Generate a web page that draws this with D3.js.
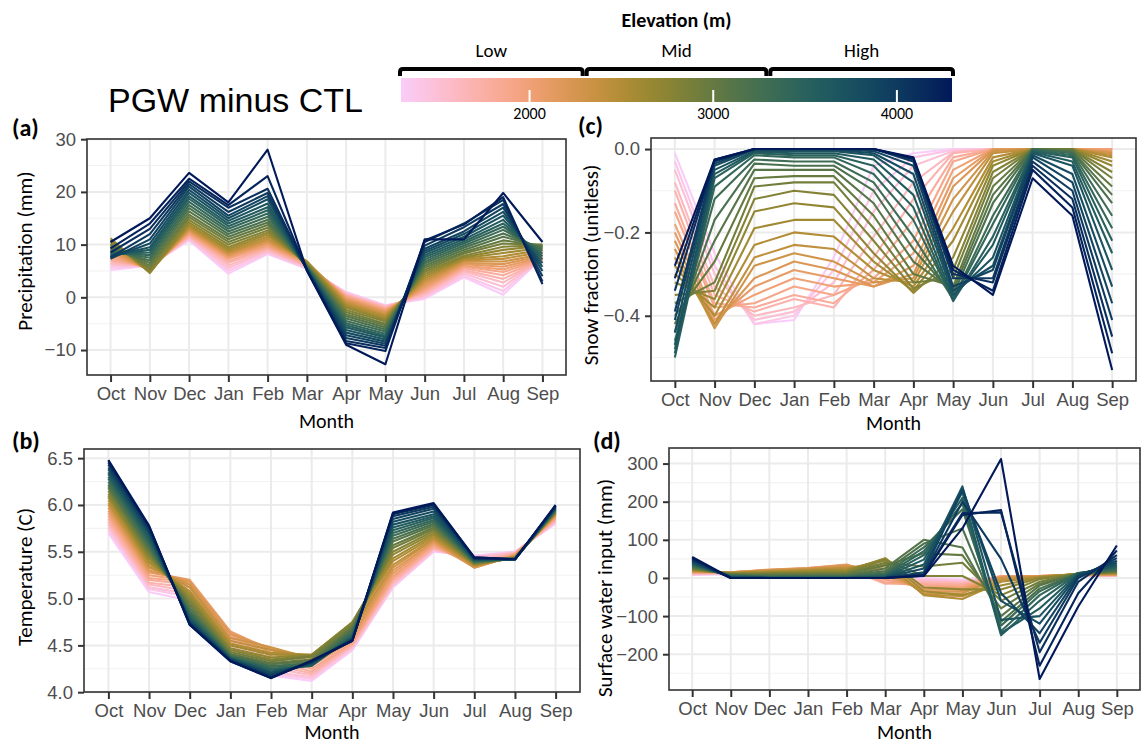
<!DOCTYPE html>
<html>
<head>
<meta charset="utf-8">
<script src="https://cdn.jsdelivr.net/npm/d3@7"></script>
<style>
body { margin: 0; background: #fff; }
svg { display: block; }
</style>
</head>
<body>
<svg width="1142" height="745"></svg>
<script>

// ---- data ----
// each panel: one array per month (Oct..Sep), values listed from the lowest
// elevation band (1300 m) to the highest (4300 m) in 100 m steps
var months = ["Oct", "Nov", "Dec", "Jan", "Feb", "Mar", "Apr", "May", "Jun", "Jul", "Aug", "Sep"];
var elevations = d3.range(1300, 4301, 100);

var precip = [
	[5.2, 5.6, 6.0, 6.4, 6.8, 7.1, 7.5, 8.0, 8.5, 9.0, 9.5, 10.0, 10.5, 10.9, 11.2, 10.8, 10.2, 9.8, 9.5, 9.1, 8.8, 8.5, 8.2, 8.0, 7.8, 7.5, 7.3, 7.6, 8.5, 9.3, 10.5],
	[6.0, 6.0, 6.0, 5.9, 5.8, 5.7, 5.5, 5.4, 5.2, 5.1, 5.0, 4.9, 4.8, 4.7, 4.6, 5.0, 5.5, 6.0, 6.5, 7.0, 7.5, 8.0, 8.5, 9.0, 9.5, 10.2, 11.0, 12.0, 13.0, 14.0, 15.0],
	[10.8, 11.0, 11.2, 11.4, 11.6, 11.8, 12.0, 12.2, 12.5, 12.7, 13.0, 13.2, 13.5, 13.8, 14.2, 14.7, 15.2, 15.7, 16.3, 16.9, 17.5, 18.1, 18.7, 19.2, 19.8, 20.4, 21.0, 21.5, 22.0, 22.5, 23.6],
	[4.5, 5.0, 5.5, 6.0, 6.5, 6.9, 7.3, 7.5, 7.8, 8.0, 8.3, 8.5, 8.8, 9.1, 9.5, 10.0, 10.5, 11.0, 11.5, 12.0, 12.5, 13.0, 13.5, 14.0, 14.5, 15.0, 15.5, 16.2, 17.0, 17.5, 18.0],
	[8.2, 8.4, 8.7, 8.9, 9.2, 9.4, 9.7, 9.9, 10.2, 10.5, 10.8, 11.1, 11.5, 11.9, 12.3, 12.7, 13.2, 13.7, 14.2, 14.7, 15.3, 15.9, 16.5, 17.1, 17.8, 18.6, 19.2, 19.8, 20.6, 23.0, 28.0],
	[5.4, 5.5, 5.7, 5.9, 6.0, 6.2, 6.3, 6.5, 6.6, 6.7, 6.8, 6.8, 6.8, 6.7, 6.5, 6.4, 6.2, 6.1, 6.0, 5.9, 5.8, 5.7, 5.6, 5.5, 5.4, 5.4, 5.3, 5.2, 5.2, 5.1, 5.1],
	[1.0, 0.9, 0.7, 0.6, 0.4, 0.3, 0.1, -0.1, -0.3, -0.5, -0.8, -1.1, -1.4, -1.7, -2.0, -2.4, -2.8, -3.2, -3.6, -4.0, -4.5, -4.9, -5.3, -5.7, -6.2, -6.7, -7.2, -7.7, -8.3, -8.7, -9.0],
	[-1.5, -1.6, -1.7, -1.8, -2.0, -2.1, -2.3, -2.5, -2.7, -2.9, -3.2, -3.4, -3.7, -4.0, -4.3, -4.6, -5.0, -5.3, -5.7, -6.1, -6.5, -6.9, -7.3, -7.6, -8.0, -8.4, -8.8, -9.2, -9.6, -10.2, -12.7],
	[-0.3, 0.0, 0.2, 0.5, 0.8, 1.1, 1.4, 1.7, 2.0, 2.4, 2.8, 3.2, 3.6, 4.0, 4.4, 4.8, 5.2, 5.6, 6.0, 6.4, 6.8, 7.2, 7.6, 8.0, 8.4, 8.8, 9.2, 9.8, 10.5, 10.8, 11.0],
	[3.8, 4.1, 4.5, 4.9, 5.2, 5.5, 5.8, 6.0, 6.3, 6.5, 6.8, 7.0, 7.2, 7.4, 7.6, 7.9, 8.3, 8.6, 9.0, 9.4, 9.8, 10.2, 10.6, 11.0, 11.5, 12.0, 12.5, 13.3, 14.0, 13.8, 11.0],
	[0.5, 1.2, 2.0, 2.8, 3.5, 4.2, 4.8, 5.3, 5.8, 6.3, 6.8, 7.3, 7.8, 8.4, 9.0, 9.6, 10.2, 10.8, 11.5, 12.1, 12.8, 13.4, 14.0, 14.7, 15.5, 16.2, 17.0, 17.7, 18.5, 19.0, 19.8],
	[7.5, 7.4, 7.3, 7.1, 7.0, 7.1, 7.2, 7.4, 7.6, 7.9, 8.2, 8.6, 9.0, 9.4, 9.8, 9.9, 10.0, 9.8, 9.5, 9.2, 8.8, 8.3, 7.8, 7.2, 6.5, 5.8, 5.0, 4.0, 3.0, 2.5, 10.5]
];

var temp = [
	[5.70, 5.73, 5.76, 5.79, 5.82, 5.85, 5.88, 5.91, 5.94, 5.97, 6.00, 6.02, 6.05, 6.08, 6.10, 6.12, 6.15, 6.18, 6.20, 6.22, 6.25, 6.28, 6.30, 6.33, 6.35, 6.38, 6.40, 6.43, 6.45, 6.47, 6.48],
	[5.07, 5.10, 5.12, 5.15, 5.17, 5.20, 5.22, 5.25, 5.28, 5.30, 5.33, 5.35, 5.38, 5.40, 5.43, 5.45, 5.48, 5.50, 5.53, 5.55, 5.58, 5.60, 5.63, 5.65, 5.68, 5.70, 5.72, 5.74, 5.76, 5.77, 5.78],
	[4.98, 5.02, 5.05, 5.08, 5.12, 5.15, 5.18, 5.19, 5.20, 5.18, 5.15, 5.12, 5.08, 5.05, 5.02, 4.99, 4.96, 4.93, 4.90, 4.87, 4.85, 4.83, 4.81, 4.79, 4.78, 4.76, 4.75, 4.74, 4.73, 4.72, 4.72],
	[4.48, 4.50, 4.52, 4.55, 4.58, 4.61, 4.63, 4.64, 4.65, 4.62, 4.58, 4.55, 4.52, 4.50, 4.47, 4.45, 4.43, 4.41, 4.40, 4.39, 4.38, 4.37, 4.37, 4.36, 4.36, 4.35, 4.35, 4.34, 4.34, 4.33, 4.33],
	[4.18, 4.20, 4.22, 4.26, 4.30, 4.34, 4.38, 4.42, 4.45, 4.47, 4.48, 4.45, 4.42, 4.40, 4.37, 4.35, 4.33, 4.31, 4.30, 4.28, 4.27, 4.25, 4.24, 4.22, 4.21, 4.20, 4.18, 4.17, 4.16, 4.15, 4.15],
	[4.12, 4.14, 4.16, 4.18, 4.20, 4.22, 4.25, 4.28, 4.30, 4.33, 4.36, 4.38, 4.40, 4.40, 4.40, 4.39, 4.38, 4.35, 4.33, 4.31, 4.30, 4.29, 4.28, 4.29, 4.30, 4.31, 4.32, 4.32, 4.33, 4.33, 4.34],
	[4.45, 4.46, 4.48, 4.49, 4.50, 4.52, 4.53, 4.55, 4.58, 4.61, 4.65, 4.68, 4.72, 4.74, 4.75, 4.74, 4.72, 4.70, 4.68, 4.66, 4.64, 4.62, 4.60, 4.59, 4.58, 4.57, 4.56, 4.56, 4.55, 4.55, 4.55],
	[5.12, 5.13, 5.15, 5.16, 5.18, 5.20, 5.22, 5.24, 5.27, 5.30, 5.33, 5.36, 5.40, 5.43, 5.47, 5.50, 5.54, 5.57, 5.61, 5.64, 5.67, 5.70, 5.73, 5.76, 5.79, 5.82, 5.85, 5.88, 5.90, 5.91, 5.92],
	[5.50, 5.51, 5.52, 5.53, 5.54, 5.55, 5.57, 5.58, 5.60, 5.61, 5.63, 5.64, 5.66, 5.68, 5.70, 5.72, 5.74, 5.76, 5.78, 5.80, 5.82, 5.84, 5.86, 5.88, 5.90, 5.93, 5.96, 5.98, 6.00, 6.01, 6.02],
	[5.46, 5.45, 5.44, 5.42, 5.40, 5.37, 5.35, 5.34, 5.33, 5.33, 5.34, 5.35, 5.36, 5.36, 5.37, 5.37, 5.38, 5.38, 5.39, 5.39, 5.40, 5.40, 5.41, 5.41, 5.42, 5.42, 5.43, 5.43, 5.43, 5.44, 5.44],
	[5.50, 5.50, 5.49, 5.49, 5.48, 5.48, 5.47, 5.47, 5.46, 5.46, 5.45, 5.45, 5.44, 5.44, 5.43, 5.43, 5.43, 5.43, 5.43, 5.43, 5.43, 5.42, 5.42, 5.42, 5.42, 5.42, 5.42, 5.42, 5.42, 5.42, 5.42],
	[5.80, 5.81, 5.82, 5.83, 5.84, 5.85, 5.86, 5.87, 5.88, 5.89, 5.90, 5.90, 5.91, 5.91, 5.92, 5.92, 5.93, 5.93, 5.94, 5.94, 5.95, 5.95, 5.96, 5.96, 5.97, 5.97, 5.98, 5.98, 5.99, 5.99, 6.00]
];

var snow = [
	[-0.01, -0.03, -0.05, -0.08, -0.10, -0.13, -0.15, -0.18, -0.20, -0.22, -0.24, -0.26, -0.28, -0.30, -0.32, -0.35, -0.37, -0.40, -0.42, -0.44, -0.46, -0.48, -0.50, -0.49, -0.47, -0.44, -0.41, -0.39, -0.34, -0.31, -0.28],
	[-0.25, -0.28, -0.30, -0.33, -0.35, -0.37, -0.38, -0.40, -0.41, -0.42, -0.43, -0.42, -0.40, -0.38, -0.36, -0.34, -0.32, -0.27, -0.22, -0.17, -0.12, -0.09, -0.07, -0.06, -0.05, -0.04, -0.035, -0.03, -0.028, -0.026, -0.025],
	[-0.42, -0.42, -0.41, -0.40, -0.39, -0.38, -0.37, -0.35, -0.33, -0.31, -0.28, -0.26, -0.23, -0.19, -0.15, -0.12, -0.09, -0.07, -0.05, -0.035, -0.025, -0.015, -0.01, -0.007, -0.005, -0.002, 0, 0, 0, 0, 0],
	[-0.41, -0.40, -0.39, -0.38, -0.36, -0.35, -0.33, -0.31, -0.29, -0.27, -0.25, -0.23, -0.20, -0.17, -0.13, -0.10, -0.08, -0.065, -0.05, -0.04, -0.03, -0.02, -0.015, -0.01, -0.005, -0.002, 0, 0, 0, 0, 0],
	[-0.26, -0.29, -0.32, -0.35, -0.38, -0.37, -0.35, -0.33, -0.31, -0.29, -0.27, -0.24, -0.21, -0.17, -0.14, -0.11, -0.08, -0.065, -0.05, -0.04, -0.03, -0.02, -0.015, -0.01, -0.005, -0.002, 0, 0, 0, 0, 0],
	[-0.04, -0.10, -0.15, -0.21, -0.26, -0.29, -0.31, -0.32, -0.33, -0.33, -0.32, -0.31, -0.29, -0.27, -0.25, -0.22, -0.19, -0.16, -0.13, -0.10, -0.08, -0.06, -0.04, -0.025, -0.015, -0.01, -0.005, 0, 0, 0, 0],
	[-0.01, -0.02, -0.04, -0.08, -0.12, -0.17, -0.22, -0.25, -0.28, -0.30, -0.31, -0.32, -0.33, -0.34, -0.345, -0.335, -0.32, -0.30, -0.27, -0.24, -0.21, -0.17, -0.14, -0.11, -0.08, -0.06, -0.04, -0.03, -0.025, -0.022, -0.02],
	[0, -0.002, -0.005, -0.008, -0.01, -0.02, -0.03, -0.05, -0.07, -0.09, -0.12, -0.15, -0.19, -0.22, -0.26, -0.29, -0.31, -0.33, -0.34, -0.35, -0.36, -0.362, -0.365, -0.36, -0.35, -0.34, -0.33, -0.31, -0.30, -0.29, -0.28],
	[0, 0, 0, 0, 0, 0, 0, 0, 0, -0.002, -0.005, -0.01, -0.02, -0.03, -0.04, -0.055, -0.07, -0.09, -0.11, -0.13, -0.16, -0.18, -0.21, -0.23, -0.26, -0.28, -0.29, -0.31, -0.32, -0.34, -0.35],
	[0, 0, 0, 0, 0, 0, 0, 0, 0, 0, 0, 0, 0, 0, 0, 0, 0, 0, 0, 0, 0, -0.002, -0.005, -0.007, -0.01, -0.015, -0.02, -0.03, -0.04, -0.05, -0.07],
	[0, 0, 0, 0, 0, 0, 0, 0, 0, 0, 0, 0, 0, 0, 0, 0, 0, -0.002, -0.005, -0.007, -0.01, -0.015, -0.02, -0.03, -0.04, -0.06, -0.08, -0.10, -0.12, -0.14, -0.16],
	[0, 0, 0, 0, 0, 0, 0, 0, -0.005, -0.008, -0.01, -0.015, -0.02, -0.03, -0.04, -0.055, -0.07, -0.09, -0.11, -0.13, -0.16, -0.19, -0.22, -0.25, -0.29, -0.33, -0.37, -0.41, -0.45, -0.49, -0.53]
];

var swi = [
	[8, 9, 10, 11, 12, 13, 14, 15, 16, 17, 18, 19, 20, 21, 22, 23, 25, 26, 28, 30, 32, 34, 36, 38, 40, 42, 45, 47, 50, 52, 55],
	[10, 11, 12, 13, 14, 15, 15, 15, 15, 15, 14, 14, 13, 12, 12, 11, 10, 9, 8, 7, 6, 5, 4, 3, 2, 1, 1, 0, 0, 0, 0],
	[8, 10, 12, 14, 16, 18, 20, 21, 22, 21, 20, 18, 17, 15, 14, 12, 10, 8, 6, 4, 3, 2, 1, 0, 0, 0, 0, 0, 0, 0, 0],
	[10, 12, 15, 18, 20, 23, 25, 26, 26, 25, 24, 22, 20, 18, 16, 13, 11, 9, 7, 5, 3, 2, 1, 0, 0, 0, 0, 0, 0, 0, 0],
	[12, 15, 18, 22, 25, 28, 32, 34, 35, 33, 30, 27, 24, 21, 18, 15, 12, 10, 7, 5, 3, 2, 1, 0, 0, 0, 0, 0, 0, 0, 0],
	[-5, -8, -10, -13, -15, -14, -12, -4, 5, 15, 25, 35, 45, 50, 52, 47, 40, 33, 25, 18, 12, 8, 5, 3, 2, 1, 0, 0, 0, 0, 0],
	[0, -2, -5, -8, -12, -16, -20, -25, -30, -35, -40, -43, -45, -35, -25, 5, 30, 65, 100, 90, 80, 70, 60, 48, 35, 25, 15, 10, 8, 6, 5],
	[-5, -7, -10, -12, -15, -18, -22, -26, -30, -35, -40, -48, -55, -45, -30, 5, 40, 60, 80, 130, 180, 195, 210, 225, 240, 235, 230, 200, 170, 165, 130],
	[0, 1, 2, 3, 4, 5, 5, 4, 3, 2, 0, -5, -10, -20, -30, -45, -60, -80, -100, -115, -125, -140, -150, -145, -110, -60, -40, 50, 172, 178, 312],
	[2, 2, 3, 3, 4, 4, 5, 5, 5, 5, 4, 4, 3, 2, 0, -3, -10, -15, -20, -28, -35, -45, -60, -80, -100, -120, -145, -170, -195, -230, -265],
	[5, 5, 6, 6, 7, 7, 8, 8, 9, 9, 10, 10, 10, 11, 11, 11, 12, 12, 12, 12, 13, 13, 12, 11, 10, 8, 5, 0, -10, -40, -75],
	[5, 5, 6, 6, 7, 7, 8, 8, 9, 9, 10, 11, 12, 13, 14, 15, 16, 17, 19, 20, 22, 25, 28, 31, 35, 40, 45, 52, 60, 72, 85]
];

var legendTicks = [2000, 3000, 4000];
var bandNames = ["Low", "Mid", "High"];
var bandEdges = [1300, 2300, 3300, 4300];

// batlow, dark end first; used reversed so low elevations are pink
var batlow = ["#011959", "#103F60", "#1C5A62", "#3C6D56", "#687B3E", "#9D892B", "#D29343", "#F8A17B", "#FDB7BC", "#FACCFA"];

var svg = d3.select('svg');
var tickFont = "'Liberation Sans', Arial, sans-serif";
var titleFont = "Carlito, Lato, sans-serif";

var colorInterp = d3.interpolateRgbBasis(batlow.slice().reverse());
var elevT = d3.scaleLinear().domain([1300, 4300]).range([0, 1]).clamp(true);
function colorFor(e) {
	return colorInterp(elevT(e));
}

//The panels; months are columns in the arrays above, so turn them into one row per band
var panels = [
	{ label: "(a)", rows: d3.transpose(precip), box: { l: 87, r: 566, t: 139, b: 375 },
	  major: [-10, 0, 10, 20, 30], minor: [-5, 5, 15, 25], fmt: d3.format("d"),
	  title: "Precipitation (mm)", titleX: 25, titleY: 251, labelX: 12, labelY: 136, monthY: 428 },
	{ label: "(b)", rows: d3.transpose(temp), box: { l: 84, r: 580, t: 449, b: 692 },
	  major: [4.0, 4.5, 5.0, 5.5, 6.0, 6.5], minor: [4.25, 4.75, 5.25, 5.75, 6.25], fmt: d3.format(".1f"),
	  title: "Temperature (C)", titleX: 25, titleY: 577, labelX: 12, labelY: 449, monthY: 739 },
	{ label: "(c)", rows: d3.transpose(snow), box: { l: 651, r: 1136, t: 138, b: 381 },
	  major: [-0.4, -0.2, 0.0], minor: [-0.5, -0.3, -0.1], fmt: d3.format(".1f"),
	  title: "Snow fraction (unitless)", titleX: 591, titleY: 265, labelX: 578, labelY: 134, monthY: 430 },
	{ label: "(d)", rows: d3.transpose(swi), box: { l: 669, r: 1140, t: 448, b: 690 },
	  major: [-200, -100, 0, 100, 200, 300], minor: [-250, -150, -50, 50, 150, 250], fmt: d3.format("d"),
	  title: "Surface water input (mm)", titleX: 605, titleY: 588, labelX: 593, labelY: 449, monthY: 739 }
];

panels.forEach(drawPanel);
drawLegend();

//Title
svg.append('text')
	.attr('x', 108)
	.attr('y', 112)
	.style('font-family', tickFont)
	.style('font-size', '34px')
	.attr('fill', '#000')
	.text('PGW minus CTL');

function drawPanel(p) {
	var g = svg.append('g');
	var b = p.box;

	var x = d3.scalePoint().domain(months).range([b.l, b.r]).padding(0.6);
	var ext = d3.extent(d3.merge(p.rows));
	var pad = (ext[1] - ext[0]) * 0.05;
	var y = d3.scaleLinear().domain([ext[0] - pad, ext[1] + pad]).range([b.b, b.t]);

	//Grid: minor first, then major
	g.append('g').selectAll('line').data(p.minor).join('line')
		.attr('x1', b.l).attr('x2', b.r)
		.attr('y1', d => y(d)).attr('y2', d => y(d))
		.attr('stroke', '#F2F2F2').attr('stroke-width', 1.1);
	g.append('g').selectAll('line').data(p.major).join('line')
		.attr('x1', b.l).attr('x2', b.r)
		.attr('y1', d => y(d)).attr('y2', d => y(d))
		.attr('stroke', '#EBEBEB').attr('stroke-width', 2);
	g.append('g').selectAll('line').data(months).join('line')
		.attr('x1', d => x(d)).attr('x2', d => x(d))
		.attr('y1', b.t).attr('y2', b.b)
		.attr('stroke', '#EBEBEB').attr('stroke-width', 2);

	//One line per elevation band, low to high so the navy ones sit on top
	var line = d3.line()
		.x((d, i) => x(months[i]))
		.y(d => y(d));
	g.append('g').selectAll('path').data(p.rows).join('path')
		.attr('d', line)
		.attr('fill', 'none')
		.attr('stroke', (d, i) => colorFor(elevations[i]))
		.attr('stroke-width', 2.1)
		.attr('stroke-linejoin', 'round');

	//Panel border
	g.append('rect')
		.attr('x', b.l).attr('y', b.t)
		.attr('width', b.r - b.l).attr('height', b.b - b.t)
		.attr('fill', 'none')
		.attr('stroke', '#333333')
		.attr('stroke-width', 1.6);

	//Axes
	var xa = g.append('g')
		.attr('transform', 'translate(0,' + b.b + ')')
		.call(d3.axisBottom(x).tickSize(7).tickPadding(5));
	var ya = g.append('g')
		.attr('transform', 'translate(' + b.l + ',0)')
		.call(d3.axisLeft(y).tickValues(p.major).tickFormat(p.fmt).tickSize(6).tickPadding(5));
	[xa, ya].forEach(function(a) {
		a.select('.domain').remove();
		a.selectAll('.tick line').attr('stroke', '#333333').attr('stroke-width', 2);
		a.selectAll('.tick text')
			.attr('fill', '#4D4D4D')
			.style('font-family', tickFont)
			.style('font-size', '18.5px');
	});

	//Titles
	g.append('text')
		.attr('x', (b.l + b.r) / 2)
		.attr('y', p.monthY)
		.attr('text-anchor', 'middle')
		.style('font-family', titleFont)
		.style('font-size', '20px')
		.text('Month');
	g.append('text')
		.attr('transform', 'translate(' + p.titleX + ',' + p.titleY + ') rotate(-90)')
		.attr('text-anchor', 'middle')
		.attr('dy', '0.35em')
		.style('font-family', titleFont)
		.style('font-size', '21px')
		.text(p.title);
	g.append('text')
		.attr('x', p.labelX)
		.attr('y', p.labelY)
		.style('font-family', titleFont)
		.style('font-size', '24px')
		.style('font-weight', 'bold')
		.text(p.label);
}

function drawLegend() {
	var lx = d3.scaleLinear().domain([1300, 4300]).range([401, 952]);
	var g = svg.append('g');

	//Colour bar as a gradient
	var grad = svg.append('defs').append('linearGradient')
		.attr('id', 'elevGrad')
		.attr('x1', '0%').attr('x2', '100%')
		.attr('y1', '0%').attr('y2', '0%');
	grad.selectAll('stop').data(d3.range(0, 1.0001, 0.05)).join('stop')
		.attr('offset', d => (d * 100) + '%')
		.attr('stop-color', d => colorFor(lx.invert(401 + d * 551)));

	g.append('rect')
		.attr('x', lx(1300)).attr('y', 78)
		.attr('width', lx(4300) - lx(1300)).attr('height', 24)
		.attr('fill', 'url(#elevGrad)');

	g.selectAll('line.tk').data(legendTicks).join('line')
		.attr('class', 'tk')
		.attr('x1', d => lx(d)).attr('x2', d => lx(d))
		.attr('y1', 90).attr('y2', 102)
		.attr('stroke', '#fff').attr('stroke-width', 2);

	g.selectAll('text.tl').data(legendTicks).join('text')
		.attr('class', 'tl')
		.attr('x', d => lx(d)).attr('y', 119)
		.attr('text-anchor', 'middle')
		.style('font-family', titleFont)
		.style('font-size', '16px')
		.text(d => d);

	//Brackets for Low / Mid / High
	bandNames.forEach(function(name, i) {
		var x0 = lx(bandEdges[i]) + (i == 0 ? -1 : 2);
		var x1 = lx(bandEdges[i + 1]) - (i == 2 ? -1 : 2);
		g.append('path')
			.attr('d', 'M' + x0 + ',76 L' + x0 + ',72 Q' + x0 + ',69 ' + (x0 + 3) + ',69 L' + (x1 - 3) + ',69 Q' + x1 + ',69 ' + x1 + ',72 L' + x1 + ',76')
			.attr('fill', 'none')
			.attr('stroke', '#000')
			.attr('stroke-width', 4);
		g.append('text')
			.attr('x', (x0 + x1) / 2).attr('y', 57)
			.attr('text-anchor', 'middle')
			.style('font-family', titleFont)
			.style('font-size', '19px')
			.text(name);
	});

	g.append('text')
		.attr('x', (lx(1300) + lx(4300)) / 2).attr('y', 27)
		.attr('text-anchor', 'middle')
		.style('font-family', titleFont)
		.style('font-size', '20px')
		.style('font-weight', 'bold')
		.text('Elevation (m)');
}

</script>
</body>
</html>
